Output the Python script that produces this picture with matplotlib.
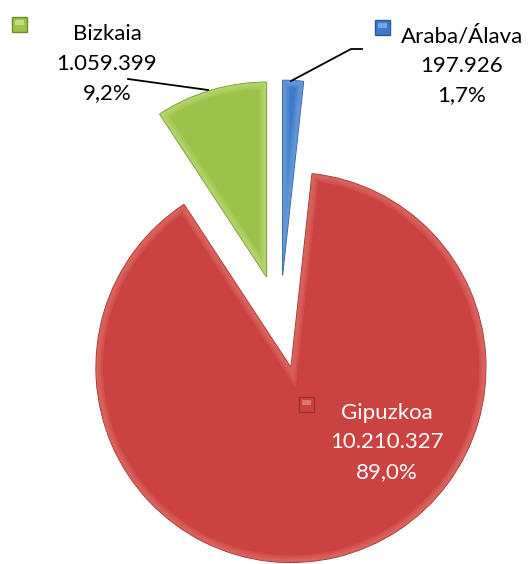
import matplotlib
matplotlib.use('Agg')
import matplotlib.pyplot as plt
from matplotlib.patches import Wedge, Rectangle
from matplotlib.lines import Line2D

names = ['Araba/Álava', 'Gipuzkoa', 'Bizkaia']
values = [197926, 10210327, 1059399]
value_labels = ['197.926', '10.210.327', '1.059.399']
pct_labels = ['1,7%', '89,0%', '9,2%']

colors = ['#3E7AC8', '#CB4340', '#9CC24A']
light_colors = ['#86B2EC', '#E8807B', '#C9E68A']
dark_colors = ['#2B5A98', '#9A2F2C', '#6E8E2C']

W, H = 528, 564
R = 195.0
fig = plt.figure(figsize=(W / 100, H / 100), dpi=100)
ax = fig.add_axes([0, 0, 1, 1])
cx, cy = 280 / R, 322 / R

wedges, _ = ax.pie(values, explode=[0.24] * 3, startangle=90, counterclock=False,
                   colors=colors, radius=1, center=(0, 0),
                   wedgeprops=dict(linewidth=0.8))
for w, lc, dc in zip(wedges, light_colors, dark_colors):
    w.set_edgecolor(dc)
    for lw in (10, 7, 4):
        b = Wedge(w.center, w.r, w.theta1, w.theta2, fill=False,
                  edgecolor=lc, linewidth=lw, alpha=0.22)
        ax.add_patch(b)
        b.set_clip_path(w)
ax.set_xlim(-cx, W / R - cx)
ax.set_ylim(-(H / R - cy), cy)
ax.axis('off')

def fx(x):
    return x / W

def fy(y):
    return 1 - y / H

# label layout: (center x, first line y, text color, key square x, key square y)
layout = {
    'Araba/Álava': (462, 36, 'black', 375, 20),
    'Gipuzkoa': (387, 413, 'white', 299, 397),
    'Bizkaia': (107, 34, 'black', 12, 17),
}
line_gap = 29.5
for name, vl, pl, col, lc, dc in zip(names, value_labels, pct_labels, colors, light_colors, dark_colors):
    x, y, tc, kx, ky = layout[name]
    for i, s in enumerate([name, vl, pl]):
        fig.text(fx(x), fy(y + i * line_gap), s, ha='center', va='center',
                 color=tc, fontsize=16, family=['Lato', 'DejaVu Sans'])
    fig.patches.append(Rectangle((fx(kx), fy(ky + 15)), 15 / W, 15 / H,
                                 transform=fig.transFigure, facecolor=col,
                                 edgecolor=dc, linewidth=1))
    fig.patches.append(Rectangle((fx(kx + 3), fy(ky + 8)), 9 / W, 5 / H,
                                 transform=fig.transFigure, facecolor=lc,
                                 edgecolor='none', alpha=0.8))

# leader lines
fig.add_artist(Line2D([fx(128), fx(208)], [fy(79), fy(90)], color='black', lw=1.3))
fig.add_artist(Line2D([fx(362), fx(351), fx(291)], [fy(49), fy(49), fy(81)],
                      color='black', lw=1.3))

fig.savefig('out.png', dpi=100)
